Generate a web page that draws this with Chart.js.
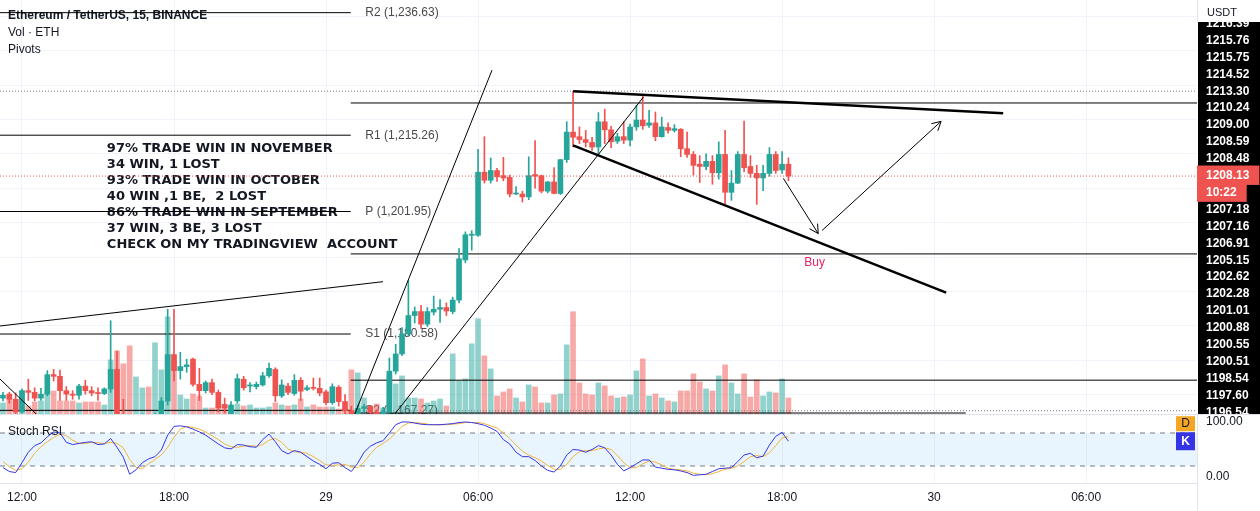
<!DOCTYPE html>
<html>
<head>
<meta charset="utf-8">
<script src="https://cdn.jsdelivr.net/npm/chart.js@4.4.1/dist/chart.umd.min.js"></script>
<style>
  html, body { margin: 0; padding: 0; background: #fff; }
  #cadre { position: relative; width: 1260px; height: 511px; overflow: hidden; }
  #panneauPrix { position: absolute; left: 0; top: 0; width: 1260px; height: 414px; }
  #panneauRsi { position: absolute; left: 0; top: 414px; width: 1260px; height: 97px; }
</style>
</head>
<body>
<div id="cadre">
  <div id="panneauPrix"><canvas id="graphiquePrix"></canvas></div>
  <div id="panneauRsi"><canvas id="graphiqueRsi"></canvas></div>
</div>
<script>
// ── Données lues sur la capture (ETH/USDT 15 min, Binance) ──────────────────
// barre 0 = 28 nov. 12:00, une barre = 15 minutes
const FIRST_BAR = -3;
const TIME_TICKS  = [0, 24, 48, 72, 96, 120, 144, 168];
const TIME_LABELS = ['12:00', '18:00', '29', '06:00', '12:00', '18:00', '30', '06:00'];

const OPEN = [
    1169.4, 1170.1, 1169.2, 1167.0, 1170.7, 1170.4, 1169.4, 1170.1, 1173.5, 1173.2,
    1170.7, 1170.1, 1169.9, 1171.5, 1170.7, 1170.3, 1170.2, 1171.0, 1174.4, 1166.0,
    1165.6, 1165.1, 1165.8, 1166.2, 1165.6, 1166.4, 1168.9, 1177.0, 1174.2, 1174.9,
    1176.2, 1171.8, 1170.7, 1172.1, 1170.4, 1168.3, 1166.6, 1168.9, 1172.7, 1171.5,
    1171.4, 1171.7, 1173.3, 1174.4, 1169.8, 1171.5, 1170.2, 1172.5, 1170.9, 1171.2,
    1171.1, 1170.5, 1168.6, 1171.3, 1168.8, 1167.2, 1166.4, 1167.6, 1167.9, 1166.9,
    1166.3, 1167.0, 1174.1, 1177.1, 1180.6, 1183.8, 1184.5, 1182.3, 1184.4, 1184.9,
    1185.2, 1184.5, 1186.5, 1193.5, 1197.8, 1197.8, 1208.8, 1207.4, 1209.1, 1208.2,
    1207.9, 1205.0, 1205.0, 1204.5, 1208.4, 1208.2, 1205.5, 1207.1, 1205.1, 1211.0,
    1215.8, 1215.0, 1214.5, 1214.0, 1213.2, 1217.6, 1216.2, 1214.2, 1215.0, 1214.4,
    1216.7, 1217.9, 1217.0, 1217.4, 1215.0, 1216.6, 1216.1, 1216.3, 1212.9, 1211.9,
    1210.2, 1209.8, 1210.7, 1208.7, 1211.9, 1205.3, 1206.9, 1211.9, 1209.8, 1208.6,
    1207.8, 1208.6, 1211.9, 1209.2, 1210.2,
];
const HIGH = [
    1170.4, 1170.4, 1170.3, 1171.0, 1172.7, 1171.2, 1171.1, 1174.2, 1174.4, 1174.3,
    1171.4, 1170.7, 1171.8, 1172.5, 1171.4, 1171.2, 1171.2, 1182.9, 1177.6, 1169.2,
    1166.4, 1166.2, 1166.7, 1166.6, 1166.8, 1169.5, 1184.9, 1184.9, 1177.4, 1176.2,
    1176.4, 1174.6, 1172.4, 1172.7, 1170.8, 1169.4, 1168.8, 1173.6, 1173.2, 1172.1,
    1172.2, 1173.9, 1175.5, 1174.7, 1172.6, 1172.0, 1173.5, 1173.0, 1171.6, 1172.9,
    1172.9, 1170.8, 1171.9, 1171.6, 1170.0, 1168.0, 1168.2, 1168.3, 1168.1, 1167.3,
    1167.8, 1176.4, 1178.8, 1181.7, 1189.9, 1185.3, 1185.6, 1185.2, 1187.2, 1186.6,
    1186.0, 1187.0, 1195.5, 1198.4, 1198.6, 1212.8, 1215.0, 1211.3, 1209.5, 1211.4,
    1208.3, 1206.3, 1205.5, 1211.5, 1214.3, 1208.3, 1207.2, 1209.6, 1211.0, 1217.6,
    1222.9, 1216.7, 1216.1, 1214.9, 1219.2, 1219.8, 1216.8, 1215.6, 1217.6, 1217.2,
    1220.5, 1222.2, 1219.6, 1219.3, 1218.4, 1217.4, 1217.1, 1216.4, 1215.8, 1212.4,
    1211.7, 1212.0, 1211.7, 1214.1, 1216.1, 1209.1, 1212.4, 1217.7, 1211.7, 1210.0,
    1210.0, 1213.1, 1212.4, 1212.4, 1211.3,
];
const LOW = [
    1168.9, 1168.5, 1166.5, 1166.8, 1169.0, 1168.9, 1169.0, 1169.8, 1172.4, 1169.0,
    1169.0, 1169.2, 1169.2, 1170.1, 1169.8, 1169.0, 1170.0, 1170.4, 1165.5, 1164.8,
    1163.9, 1164.0, 1164.6, 1164.2, 1165.0, 1166.1, 1168.2, 1172.4, 1172.7, 1173.9,
    1171.5, 1169.0, 1170.3, 1170.0, 1167.0, 1166.8, 1166.3, 1168.5, 1170.8, 1170.5,
    1171.0, 1171.5, 1173.0, 1168.8, 1169.5, 1170.0, 1169.9, 1169.0, 1170.7, 1170.8,
    1169.8, 1168.2, 1168.3, 1168.0, 1166.6, 1165.9, 1166.0, 1166.9, 1166.5, 1165.8,
    1166.0, 1166.8, 1173.6, 1176.8, 1180.3, 1182.5, 1181.5, 1181.9, 1183.9, 1182.6,
    1183.8, 1184.1, 1186.0, 1193.0, 1195.2, 1197.6, 1206.9, 1206.9, 1207.2, 1207.3,
    1204.5, 1204.9, 1203.6, 1204.0, 1206.0, 1205.2, 1205.2, 1205.0, 1204.9, 1210.5,
    1213.2, 1213.8, 1213.2, 1212.6, 1212.0, 1213.8, 1213.1, 1213.8, 1213.8, 1213.4,
    1216.1, 1216.3, 1216.6, 1214.3, 1214.9, 1215.6, 1215.8, 1211.5, 1211.4, 1208.3,
    1207.0, 1209.2, 1206.7, 1207.6, 1203.3, 1203.9, 1206.8, 1208.9, 1207.9, 1203.2,
    1205.6, 1208.1, 1208.6, 1208.6, 1207.3,
];
const CLOSE = [
    1169.9, 1169.2, 1167.0, 1170.7, 1170.4, 1169.4, 1170.1, 1173.5, 1173.2, 1170.7,
    1170.1, 1169.9, 1171.5, 1170.7, 1170.3, 1170.2, 1171.0, 1174.4, 1166.0, 1165.6,
    1165.1, 1165.8, 1166.2, 1165.6, 1166.4, 1168.9, 1177.0, 1174.2, 1174.9, 1175.2,
    1171.8, 1170.7, 1172.1, 1170.4, 1167.7, 1167.7, 1168.2, 1172.8, 1171.2, 1171.7,
    1171.8, 1173.3, 1174.6, 1169.8, 1171.7, 1170.4, 1172.5, 1170.6, 1171.2, 1171.1,
    1170.3, 1168.6, 1171.4, 1168.8, 1167.2, 1166.4, 1167.6, 1167.9, 1166.9, 1166.3,
    1167.0, 1174.1, 1177.1, 1180.6, 1183.8, 1184.5, 1182.3, 1184.5, 1184.9, 1185.2,
    1184.6, 1186.5, 1193.7, 1197.9, 1198.0, 1208.8, 1207.4, 1209.1, 1208.0, 1207.8,
    1205.0, 1205.1, 1204.5, 1208.2, 1208.1, 1205.5, 1207.1, 1205.1, 1211.0, 1215.8,
    1214.9, 1214.5, 1214.0, 1213.2, 1217.6, 1216.2, 1214.1, 1215.0, 1214.4, 1216.7,
    1217.9, 1216.9, 1217.4, 1215.0, 1216.7, 1216.1, 1216.4, 1212.9, 1211.9, 1210.0,
    1209.8, 1210.7, 1208.7, 1211.9, 1205.3, 1206.9, 1211.9, 1209.6, 1208.6, 1207.8,
    1208.6, 1211.9, 1209.1, 1210.2, 1208.13,
];
const VOLUME = [
    440, 640, 520, 920, 320, 480, 520, 920, 920, 520,
    520, 520, 440, 480, 480, 480, 360, 2160, 2520, 2000,
    2720, 1480, 1040, 1080, 2840, 1760, 3880, 2120, 760, 600,
    800, 720, 240, 240, 360, 320, 200, 400, 320, 360,
    240, 240, 280, 440, 360, 320, 360, 600, 280, 360,
    280, 280, 280, 200, 240, 1760, 1640, 640, 320, 400,
    240, 1520, 1200, 1520, 640, 640, 600, 440, 520, 600,
    320, 2400, 1320, 1400, 2800, 3800, 2320, 1800, 720, 880,
    1000, 640, 480, 1160, 1080, 440, 440, 760, 800, 2760,
    4080, 1240, 800, 760, 1240, 1120, 720, 640, 680, 760,
    1720, 2200, 720, 800, 640, 520, 480, 920, 920, 1600,
    1280, 1000, 920, 1520, 1960, 1240, 800, 1600, 680, 1360,
    720, 880, 840, 1400, 640,
];
const STOCH_K = [
    17, 10, 8, 26, 45, 57, 62, 73, 82, 80,
    63, 59, 61, 63, 64, 59, 60, 70, 54, 36,
    5, 13, 26, 33, 37, 49, 76, 92, 93, 91,
    87, 82, 76, 68, 60, 53, 51, 59, 58, 55,
    54, 68, 78, 64, 48, 42, 48, 45, 37, 29,
    23, 15, 25, 26, 17, 10, 25, 45, 56, 62,
    66, 80, 95, 100, 100, 98, 96, 95, 95, 95,
    96, 97, 99, 100, 99, 97, 94, 89, 83, 68,
    60, 45, 37, 37, 30, 20, 12, 9, 20, 40,
    50, 49, 45, 50, 57, 53, 40, 23, 11, 17,
    24, 31, 31, 18, 16, 14, 13, 11, 8, 3,
    4, 5, 10, 15, 16, 17, 28, 40, 43, 35,
    38, 58, 74, 81, 65,
];
const STOCH_D = [
    28, 19, 12, 15, 27, 43, 55, 64, 72, 78,
    75, 67, 61, 61, 63, 62, 61, 63, 61, 53,
    32, 18, 15, 24, 32, 40, 54, 72, 87, 92,
    90, 87, 82, 75, 68, 60, 55, 54, 56, 57,
    56, 59, 67, 70, 63, 51, 46, 45, 43, 37,
    30, 22, 21, 22, 23, 18, 17, 27, 42, 54,
    61, 69, 80, 92, 98, 99, 98, 96, 95, 95,
    95, 96, 97, 99, 99, 99, 97, 93, 89, 80,
    70, 58, 47, 40, 35, 29, 21, 14, 14, 23,
    37, 46, 48, 48, 51, 53, 50, 39, 26, 17,
    17, 24, 29, 27, 22, 16, 14, 13, 11, 7,
    5, 4, 6, 10, 14, 16, 20, 28, 37, 39,
    37, 44, 57, 71, 73,
];

// étiquettes empilées de l'échelle de prix (dernier prix + compte à rebours en rouge)
const PRICE_LABELS = [
    '1216.39', '1215.76', '1215.75', '1214.52', '1213.30', '1210.24', '1209.00', '1208.59',
    '1208.48', '1208.13', '10:22', '1207.18', '1207.16', '1206.91', '1205.15', '1202.62',
    '1202.28', '1201.01', '1200.88', '1200.55', '1200.51', '1198.54', '1197.60', '1196.54',
];
const LAST_PRICE_SLOTS = [9, 10];
const LAST_PRICE = 1208.13;

// pivots standard de la veille, puis lignes de la nouvelle période
const PIVOT_NAMES  = ['R2', 'R1', 'P', 'S1', 'S2'];
const PIVOT_VALUES = [1236.63, 1215.26, 1201.95, 1180.58, 1167.27];
const PIVOT_END    = 51.9;
const NEW_LEVELS   = [1220.88, 1194.55, 1172.53];
const NEW_S2       = 1166.8;
const DAY_HIGH     = 1222.93;
const DAY_LOW      = 1167.2;

// dessins de l'auteur : [barre, prix]
const TRENDLINES = [
    [[-3.5, 1181.98], [57.0, 1189.71]],
    [[-3.5, 1172.76], [3.5, 1165.30]],
    [[52.1, 1165.41], [74.2, 1226.60]],
    [[58.0, 1165.41], [98.1, 1221.90]],
];
const WEDGE = [
    [[87.0, 1222.93], [154.9, 1219.08]],
    [[87.0, 1213.49], [145.9, 1187.79]],
];
const ARROWS = [
    [[120.2, 1207.72], [125.7, 1198.10]],
    [[126.3, 1198.63], [145.1, 1217.68]],
];

const TEXT_LINES = [
    '97% TRADE WIN IN NOVEMBER',
    '34 WIN, 1 LOST',
    '93% TRADE WIN IN OCTOBER',
    '40 WIN ,1 BE,  2 LOST',
    '86% TRADE WIN IN SEPTEMBER',
    '37 WIN, 3 BE, 3 LOST',
    'CHECK ON MY TRADINGVIEW  ACCOUNT',
];
const TEXT_AT  = [13.4, 1212.96];
const BUY_AT   = [123.5, 1193.03];
const PIVOT_LABEL_BAR = 54.2;

// ── Réglages ────────────────────────────────────────────────────────────────
const X_MIN = -3.47, X_MAX = 185.5;
const UP = '#26a69a', DOWN = '#ef5350';
const UP_VOL = 'rgba(38,166,154,0.5)', DOWN_VOL = 'rgba(239,83,80,0.5)';
const K_COLOR = '#3535e6', D_COLOR = '#f4b33c';
const FONT = '"Liberation Sans", Arial, sans-serif';

Chart.defaults.animation = false;
Chart.defaults.font.family = FONT;
Chart.defaults.font.size = 12;
Chart.defaults.color = '#131722';
Chart.defaults.plugins.legend.display = false;
Chart.defaults.plugins.tooltip.enabled = false;

const estHausse = j => CLOSE[j] >= OPEN[j];
const barre = j => FIRST_BAR + j;
const fmt = v => v.toLocaleString('en-US', { minimumFractionDigits: 2, maximumFractionDigits: 2 });

function ecrire(ctx, texte, x, y, font, color, align = 'left') {
    ctx.save();
    ctx.font = font;
    ctx.fillStyle = color;
    ctx.textAlign = align;
    ctx.textBaseline = 'middle';
    ctx.fillText(texte, x, y);
    ctx.restore();
}

function ligne(points, extra) {
    return Object.assign({
        type: 'line',
        data: points.map(([x, y]) => ({ x, y })),
        borderColor: '#000',
        borderWidth: 1,
        pointRadius: 0,
        tension: 0,
        fill: false,
        yAxisID: 'y',
        order: 2,
    }, extra);
}

function sansMarge(s) { s.paddingTop = 0; s.paddingBottom = 0; s.paddingLeft = 0; s.paddingRight = 0; }

// ── Panneau des prix ────────────────────────────────────────────────────────
const decorPrix = {
    id: 'decorPrix',
    beforeDraw(chart) {
        const { ctx, chartArea: a, width } = chart;
        ctx.save();
        ctx.fillStyle = '#000';
        ctx.fillRect(a.right + 1, 0, width - a.right - 1, a.bottom);
        ctx.restore();
    },
    beforeDatasetsDraw(chart) {
        const { ctx, chartArea: a, scales: { x, y } } = chart;
        ecrire(ctx, 'Ethereum / TetherUS, 15, BINANCE', a.left + 8, 16, `bold 12px ${FONT}`, '#131722');
        ecrire(ctx, 'Vol · ETH', a.left + 8, 33, `12px ${FONT}`, '#131722');
        ecrire(ctx, 'Pivots', a.left + 8, 50, `12px ${FONT}`, '#131722');

        PIVOT_VALUES.forEach((p, k) => {
            ecrire(ctx, `${PIVOT_NAMES[k]} (${fmt(p)})`, x.getPixelForValue(PIVOT_LABEL_BAR),
                y.getPixelForValue(p), `12px ${FONT}`, '#4a4a4a');
        });

        const tx = x.getPixelForValue(TEXT_AT[0]);
        const ty = y.getPixelForValue(TEXT_AT[1]);
        TEXT_LINES.forEach((t, k) => ecrire(ctx, t, tx, ty + k * 16, 'bold 13px "DejaVu Sans"', '#131722'));

        ecrire(ctx, 'Buy', x.getPixelForValue(BUY_AT[0]), y.getPixelForValue(BUY_AT[1]), `12px ${FONT}`, '#e91e63');
    },
    afterDatasetsDraw(chart) {
        const { ctx, scales: { x, y } } = chart;
        ctx.save();
        ctx.strokeStyle = '#000';
        ctx.lineWidth = 1;
        ARROWS.forEach(seg => {
            const [p0, p1] = seg.map(([b, v]) => [x.getPixelForValue(b), y.getPixelForValue(v)]);
            const ang = Math.atan2(p1[1] - p0[1], p1[0] - p0[0]);
            ctx.beginPath();
            [-0.5, 0.5].forEach(d => {
                ctx.moveTo(p1[0], p1[1]);
                ctx.lineTo(p1[0] - 10 * Math.cos(ang + d), p1[1] - 10 * Math.sin(ang + d));
            });
            ctx.stroke();
        });
        ctx.restore();
    },
    afterDraw(chart) {
        const { ctx, chartArea: a, width } = chart;
        ctx.save();
        ctx.fillStyle = '#fff';
        ctx.fillRect(a.right + 1, 0, width - a.right - 1, 22);
        ctx.strokeStyle = '#e0e3eb';
        ctx.beginPath();
        ctx.moveTo(a.right + 0.5, 0);
        ctx.lineTo(a.right + 0.5, 22);
        ctx.stroke();
        ctx.restore();
        ecrire(ctx, 'USDT', a.right + 10, 13, `11px ${FONT}`, '#131722');
    },
};

function creerGraphiquePrix() {
    const ctx = document.getElementById('graphiquePrix');

    const pleineLargeur = v => [[X_MIN, v], [X_MAX, v]];
    const datasets = [
        // dessins
        ...TRENDLINES.map(pts => ligne(pts, { order: 2 })),
        ...WEDGE.map(pts => ligne(pts, { borderWidth: 2.5, order: 2 })),
        ...ARROWS.map(pts => ligne(pts, { order: 2 })),
        // dernier prix
        ligne(pleineLargeur(LAST_PRICE), { borderColor: DOWN, borderDash: [1, 2], order: 3 }),
        // bougies
        {
            type: 'bar',
            data: OPEN.map((o, j) => ({ x: barre(j), y: [o, CLOSE[j]] })),
            backgroundColor: c => estHausse(c.dataIndex) ? UP : DOWN,
            barThickness: 5, minBarLength: 1, grouped: false, order: 4,
        },
        {
            type: 'bar',
            data: OPEN.map((o, j) => ({ x: barre(j), y: [LOW[j], HIGH[j]] })),
            backgroundColor: c => estHausse(c.dataIndex) ? UP : DOWN,
            barThickness: 1, grouped: false, order: 5,
        },
        // pivots et niveaux
        ...PIVOT_VALUES.map(p => ligne([[X_MIN, p], [PIVOT_END, p]], { order: 8 })),
        ...NEW_LEVELS.map(p => ligne([[PIVOT_END, p], [X_MAX, p]], { order: 8 })),
        ligne([[PIVOT_END, NEW_S2], [149, NEW_S2]], { order: 8 }),
        ligne(pleineLargeur(DAY_HIGH), { borderColor: '#787b86', borderDash: [1, 2], order: 8 }),
        ligne(pleineLargeur(DAY_LOW), { borderColor: '#787b86', borderDash: [1, 2], order: 8 }),
        // volume
        {
            type: 'bar',
            data: VOLUME.map((v, j) => ({ x: barre(j), y: v })),
            yAxisID: 'yVol',
            backgroundColor: c => estHausse(c.dataIndex) ? UP_VOL : DOWN_VOL,
            barThickness: 5, grouped: false, order: 20,
        },
    ];

    new Chart(ctx, {
        type: 'bar',
        data: { datasets },
        plugins: [decorPrix],
        options: {
            responsive: true,
            maintainAspectRatio: false,
            devicePixelRatio: 1,
            events: [],
            layout: { padding: 0 },
            scales: {
                x: {
                    type: 'linear', min: X_MIN, max: X_MAX, offset: false,
                    afterBuildTicks: s => { s.ticks = TIME_TICKS.map(v => ({ value: v })); },
                    ticks: { display: false },
                    grid: { color: '#f0f3fa', drawTicks: false, offset: false },
                    border: { display: false },
                    afterFit: s => { s.height = 0; sansMarge(s); },
                },
                y: {
                    type: 'linear', position: 'left', min: 1166.63, max: 1238.84,
                    ticks: { display: false, stepSize: 6, includeBounds: false },
                    grid: { color: '#f0f3fa', drawTicks: false },
                    border: { display: false },
                    afterFit: s => { s.width = 0; sansMarge(s); },
                },
                yLab: {
                    type: 'linear', position: 'right', reverse: true, min: -1.4, max: 23.1,
                    afterBuildTicks: s => { s.ticks = PRICE_LABELS.map((_, k) => ({ value: k })); },
                    ticks: {
                        autoSkip: false,
                        color: '#fff',
                        font: { size: 12, weight: 'bold' },
                        padding: 9,
                        callback: v => PRICE_LABELS[v],
                        showLabelBackdrop: c => LAST_PRICE_SLOTS.includes(c.index),
                        backdropColor: DOWN,
                        backdropPadding: { top: 3, bottom: 2, left: 9, right: 10 },
                    },
                    grid: { display: false, drawTicks: false },
                    border: { display: false },
                    afterFit: s => { s.width = 63; sansMarge(s); },
                },
                yVol: { type: 'linear', display: false, min: 0, max: 16520 },
            },
        },
    });
}

// ── Panneau Stoch RSI + axe du temps ────────────────────────────────────────
const decorRsi = {
    id: 'decorRsi',
    afterDraw(chart) {
        const { ctx, chartArea: a, width, height, scales: { yRsi } } = chart;
        ctx.save();
        ctx.strokeStyle = '#e0e3eb';
        ctx.lineWidth = 1;
        ctx.beginPath();
        ctx.moveTo(0, 0.5); ctx.lineTo(width, 0.5);
        ctx.moveTo(a.right + 0.5, 0); ctx.lineTo(a.right + 0.5, height);
        ctx.stroke();

        // étiquettes de dernière valeur
        const yk = yRsi.getPixelForValue(STOCH_K[STOCH_K.length - 1]);
        ctx.fillStyle = K_COLOR;
        ctx.fillRect(a.right - 21, yk - 9, 19, 18);
        ctx.fillStyle = '#f5a623';
        ctx.fillRect(a.right - 21, yk - 25, 19, 15);
        ctx.restore();
        ecrire(ctx, 'K', a.right - 11.5, yk, `bold 12px ${FONT}`, '#fff', 'center');
        ecrire(ctx, 'D', a.right - 11.5, yk - 17.5, `12px ${FONT}`, '#131722', 'center');
        ecrire(ctx, 'Stoch RSI', a.left + 8, a.top + 18, `12px ${FONT}`, '#131722');
    },
};

function creerGraphiqueRsi() {
    const ctx = document.getElementById('graphiqueRsi');
    const serie = vals => vals.map((v, j) => ({ x: barre(j), y: v }));
    const bande = v => [{ x: X_MIN, y: v }, { x: X_MAX, y: v }];

    new Chart(ctx, {
        type: 'line',
        data: {
            datasets: [
                {
                    data: bande(80), yAxisID: 'yRsi', borderColor: '#787b86', borderWidth: 1,
                    borderDash: [5, 5], pointRadius: 0, fill: '+1',
                    backgroundColor: 'rgba(33,150,243,0.1)', order: 5,
                },
                {
                    data: bande(20), yAxisID: 'yRsi', borderColor: '#787b86', borderWidth: 1,
                    borderDash: [5, 5], pointRadius: 0, fill: false, order: 5,
                },
                { data: serie(STOCH_K), yAxisID: 'yRsi', borderColor: K_COLOR, borderWidth: 1, pointRadius: 0, tension: 0, order: 1 },
                { data: serie(STOCH_D), yAxisID: 'yRsi', borderColor: D_COLOR, borderWidth: 1, pointRadius: 0, tension: 0, order: 2 },
            ],
        },
        plugins: [decorRsi],
        options: {
            responsive: true,
            maintainAspectRatio: false,
            devicePixelRatio: 1,
            events: [],
            layout: { padding: 0 },
            scales: {
                x: {
                    type: 'linear', min: X_MIN, max: X_MAX, offset: false,
                    afterBuildTicks: s => { s.ticks = TIME_TICKS.map(v => ({ value: v })); },
                    ticks: {
                        autoSkip: false, maxRotation: 0, padding: 7, color: '#131722',
                        callback: v => TIME_LABELS[TIME_TICKS.indexOf(v)],
                    },
                    grid: { color: '#f0f3fa', drawTicks: false, offset: false },
                    border: { color: '#e0e3eb' },
                    afterFit: s => { s.height = 28; sansMarge(s); },
                },
                yRsi: {
                    type: 'linear', position: 'right', min: -10.9, max: 114.5,
                    afterBuildTicks: s => { s.ticks = [{ value: 0 }, { value: 100 }]; },
                    ticks: { padding: 9, color: '#131722', callback: v => v.toFixed(2) },
                    grid: { display: false, drawTicks: false },
                    border: { color: '#e0e3eb' },
                    afterFit: s => { s.width = 63; sansMarge(s); },
                },
            },
        },
    });
}

document.addEventListener('DOMContentLoaded', () => {
    creerGraphiquePrix();
    creerGraphiqueRsi();
});
</script>
</body>
</html>
